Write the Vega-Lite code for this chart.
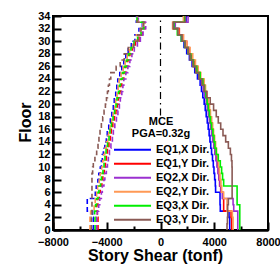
{
"$schema": "https://vega.github.io/schema/vega-lite/v6.json",
"width": 215, "height": 214,
"autosize": {"type": "none"},
"padding": {"left": 53, "top": 16, "right": 12, "bottom": 36},
"config": {
  "font": "Liberation Sans",
  "view": {"stroke": "black", "strokeWidth": 2},
  "axis": {"labelFont": "Liberation Sans", "labelFontWeight": "bold", "labelFontSize": 11, "labelColor": "black", "titleFont": "Liberation Sans", "titleFontWeight": "bold", "titleFontSize": 16, "titleColor": "black", "domainColor": "black", "domainWidth": 2.5, "tickColor": "black", "tickWidth": 2, "grid": false},
  "legend": {"labelFont": "Liberation Sans", "titleFont": "Liberation Sans"}
},
"datasets": {
"ref": [{"v": 0, "f": 18.2, "f2": 34}],
"curves": [
{"k":"EQ1,X Dir.","d":"+","f":0,"v":5150},{"k":"EQ1,X Dir.","d":"+","f":1,"v":5150},{"k":"EQ1,X Dir.","d":"+","f":2,"v":5100},{"k":"EQ1,X Dir.","d":"+","f":3,"v":4450},{"k":"EQ1,X Dir.","d":"+","f":4,"v":4430},{"k":"EQ1,X Dir.","d":"+","f":5,"v":4430},{"k":"EQ1,X Dir.","d":"+","f":6,"v":4100},{"k":"EQ1,X Dir.","d":"+","f":7,"v":4080},{"k":"EQ1,X Dir.","d":"+","f":8,"v":4030},{"k":"EQ1,X Dir.","d":"+","f":9,"v":3980},{"k":"EQ1,X Dir.","d":"+","f":10,"v":3930},{"k":"EQ1,X Dir.","d":"+","f":11,"v":3870},{"k":"EQ1,X Dir.","d":"+","f":12,"v":3800},{"k":"EQ1,X Dir.","d":"+","f":13,"v":3740},{"k":"EQ1,X Dir.","d":"+","f":14,"v":3680},{"k":"EQ1,X Dir.","d":"+","f":15,"v":3620},{"k":"EQ1,X Dir.","d":"+","f":16,"v":3550},{"k":"EQ1,X Dir.","d":"+","f":17,"v":3480},{"k":"EQ1,X Dir.","d":"+","f":18,"v":3400},{"k":"EQ1,X Dir.","d":"+","f":19,"v":3330},{"k":"EQ1,X Dir.","d":"+","f":20,"v":3250},{"k":"EQ1,X Dir.","d":"+","f":21,"v":3150},{"k":"EQ1,X Dir.","d":"+","f":22,"v":3050},{"k":"EQ1,X Dir.","d":"+","f":23,"v":2950},{"k":"EQ1,X Dir.","d":"+","f":24,"v":2750},{"k":"EQ1,X Dir.","d":"+","f":25,"v":2550},{"k":"EQ1,X Dir.","d":"+","f":26,"v":2350},{"k":"EQ1,X Dir.","d":"+","f":27,"v":2150},{"k":"EQ1,X Dir.","d":"+","f":28,"v":1950},{"k":"EQ1,X Dir.","d":"+","f":29,"v":1750},{"k":"EQ1,X Dir.","d":"+","f":30,"v":1550},{"k":"EQ1,X Dir.","d":"+","f":31,"v":1350},{"k":"EQ1,X Dir.","d":"+","f":32,"v":1000},{"k":"EQ1,X Dir.","d":"+","f":33,"v":1900},{"k":"EQ1,X Dir.","d":"+","f":34,"v":1900},
{"k":"EQ1,Y Dir.","d":"+","f":0,"v":5300},{"k":"EQ1,Y Dir.","d":"+","f":1,"v":5300},{"k":"EQ1,Y Dir.","d":"+","f":2,"v":5250},{"k":"EQ1,Y Dir.","d":"+","f":3,"v":4700},{"k":"EQ1,Y Dir.","d":"+","f":4,"v":4700},{"k":"EQ1,Y Dir.","d":"+","f":5,"v":4650},{"k":"EQ1,Y Dir.","d":"+","f":6,"v":4480},{"k":"EQ1,Y Dir.","d":"+","f":7,"v":4400},{"k":"EQ1,Y Dir.","d":"+","f":8,"v":4350},{"k":"EQ1,Y Dir.","d":"+","f":9,"v":4300},{"k":"EQ1,Y Dir.","d":"+","f":10,"v":4250},{"k":"EQ1,Y Dir.","d":"+","f":11,"v":4200},{"k":"EQ1,Y Dir.","d":"+","f":12,"v":4130},{"k":"EQ1,Y Dir.","d":"+","f":13,"v":4060},{"k":"EQ1,Y Dir.","d":"+","f":14,"v":3990},{"k":"EQ1,Y Dir.","d":"+","f":15,"v":3920},{"k":"EQ1,Y Dir.","d":"+","f":16,"v":3850},{"k":"EQ1,Y Dir.","d":"+","f":17,"v":3780},{"k":"EQ1,Y Dir.","d":"+","f":18,"v":3700},{"k":"EQ1,Y Dir.","d":"+","f":19,"v":3620},{"k":"EQ1,Y Dir.","d":"+","f":20,"v":3520},{"k":"EQ1,Y Dir.","d":"+","f":21,"v":3420},{"k":"EQ1,Y Dir.","d":"+","f":22,"v":3300},{"k":"EQ1,Y Dir.","d":"+","f":23,"v":3200},{"k":"EQ1,Y Dir.","d":"+","f":24,"v":2950},{"k":"EQ1,Y Dir.","d":"+","f":25,"v":2750},{"k":"EQ1,Y Dir.","d":"+","f":26,"v":2500},{"k":"EQ1,Y Dir.","d":"+","f":27,"v":2300},{"k":"EQ1,Y Dir.","d":"+","f":28,"v":2150},{"k":"EQ1,Y Dir.","d":"+","f":29,"v":1950},{"k":"EQ1,Y Dir.","d":"+","f":30,"v":1700},{"k":"EQ1,Y Dir.","d":"+","f":31,"v":1400},{"k":"EQ1,Y Dir.","d":"+","f":32,"v":950},{"k":"EQ1,Y Dir.","d":"+","f":33,"v":1750},{"k":"EQ1,Y Dir.","d":"+","f":34,"v":1750},
{"k":"EQ2,X Dir.","d":"+","f":0,"v":5750},{"k":"EQ2,X Dir.","d":"+","f":1,"v":5750},{"k":"EQ2,X Dir.","d":"+","f":2,"v":5750},{"k":"EQ2,X Dir.","d":"+","f":3,"v":5450},{"k":"EQ2,X Dir.","d":"+","f":4,"v":5400},{"k":"EQ2,X Dir.","d":"+","f":5,"v":4600},{"k":"EQ2,X Dir.","d":"+","f":6,"v":4500},{"k":"EQ2,X Dir.","d":"+","f":7,"v":4420},{"k":"EQ2,X Dir.","d":"+","f":8,"v":4350},{"k":"EQ2,X Dir.","d":"+","f":9,"v":4280},{"k":"EQ2,X Dir.","d":"+","f":10,"v":4200},{"k":"EQ2,X Dir.","d":"+","f":11,"v":4120},{"k":"EQ2,X Dir.","d":"+","f":12,"v":4040},{"k":"EQ2,X Dir.","d":"+","f":13,"v":3960},{"k":"EQ2,X Dir.","d":"+","f":14,"v":3880},{"k":"EQ2,X Dir.","d":"+","f":15,"v":3800},{"k":"EQ2,X Dir.","d":"+","f":16,"v":3720},{"k":"EQ2,X Dir.","d":"+","f":17,"v":3640},{"k":"EQ2,X Dir.","d":"+","f":18,"v":3560},{"k":"EQ2,X Dir.","d":"+","f":19,"v":3480},{"k":"EQ2,X Dir.","d":"+","f":20,"v":3400},{"k":"EQ2,X Dir.","d":"+","f":21,"v":3300},{"k":"EQ2,X Dir.","d":"+","f":22,"v":3180},{"k":"EQ2,X Dir.","d":"+","f":23,"v":3050},{"k":"EQ2,X Dir.","d":"+","f":24,"v":2850},{"k":"EQ2,X Dir.","d":"+","f":25,"v":2650},{"k":"EQ2,X Dir.","d":"+","f":26,"v":2450},{"k":"EQ2,X Dir.","d":"+","f":27,"v":2250},{"k":"EQ2,X Dir.","d":"+","f":28,"v":2050},{"k":"EQ2,X Dir.","d":"+","f":29,"v":1850},{"k":"EQ2,X Dir.","d":"+","f":30,"v":1600},{"k":"EQ2,X Dir.","d":"+","f":31,"v":1300},{"k":"EQ2,X Dir.","d":"+","f":32,"v":1100},{"k":"EQ2,X Dir.","d":"+","f":33,"v":2050},{"k":"EQ2,X Dir.","d":"+","f":34,"v":2050},
{"k":"EQ2,Y Dir.","d":"+","f":0,"v":5400},{"k":"EQ2,Y Dir.","d":"+","f":1,"v":5400},{"k":"EQ2,Y Dir.","d":"+","f":2,"v":5350},{"k":"EQ2,Y Dir.","d":"+","f":3,"v":4950},{"k":"EQ2,Y Dir.","d":"+","f":4,"v":4950},{"k":"EQ2,Y Dir.","d":"+","f":5,"v":4700},{"k":"EQ2,Y Dir.","d":"+","f":6,"v":4550},{"k":"EQ2,Y Dir.","d":"+","f":7,"v":4500},{"k":"EQ2,Y Dir.","d":"+","f":8,"v":4430},{"k":"EQ2,Y Dir.","d":"+","f":9,"v":4380},{"k":"EQ2,Y Dir.","d":"+","f":10,"v":4320},{"k":"EQ2,Y Dir.","d":"+","f":11,"v":4250},{"k":"EQ2,Y Dir.","d":"+","f":12,"v":4170},{"k":"EQ2,Y Dir.","d":"+","f":13,"v":4100},{"k":"EQ2,Y Dir.","d":"+","f":14,"v":4030},{"k":"EQ2,Y Dir.","d":"+","f":15,"v":3950},{"k":"EQ2,Y Dir.","d":"+","f":16,"v":3880},{"k":"EQ2,Y Dir.","d":"+","f":17,"v":3800},{"k":"EQ2,Y Dir.","d":"+","f":18,"v":3720},{"k":"EQ2,Y Dir.","d":"+","f":19,"v":3650},{"k":"EQ2,Y Dir.","d":"+","f":20,"v":3550},{"k":"EQ2,Y Dir.","d":"+","f":21,"v":3450},{"k":"EQ2,Y Dir.","d":"+","f":22,"v":3350},{"k":"EQ2,Y Dir.","d":"+","f":23,"v":3250},{"k":"EQ2,Y Dir.","d":"+","f":24,"v":3000},{"k":"EQ2,Y Dir.","d":"+","f":25,"v":2800},{"k":"EQ2,Y Dir.","d":"+","f":26,"v":2600},{"k":"EQ2,Y Dir.","d":"+","f":27,"v":2400},{"k":"EQ2,Y Dir.","d":"+","f":28,"v":2200},{"k":"EQ2,Y Dir.","d":"+","f":29,"v":1950},{"k":"EQ2,Y Dir.","d":"+","f":30,"v":1700},{"k":"EQ2,Y Dir.","d":"+","f":31,"v":1350},{"k":"EQ2,Y Dir.","d":"+","f":32,"v":900},{"k":"EQ2,Y Dir.","d":"+","f":33,"v":1700},{"k":"EQ2,Y Dir.","d":"+","f":34,"v":1700},
{"k":"EQ3,X Dir.","d":"+","f":0,"v":5900},{"k":"EQ3,X Dir.","d":"+","f":1,"v":5900},{"k":"EQ3,X Dir.","d":"+","f":2,"v":5900},{"k":"EQ3,X Dir.","d":"+","f":3,"v":5900},{"k":"EQ3,X Dir.","d":"+","f":4,"v":5700},{"k":"EQ3,X Dir.","d":"+","f":5,"v":5700},{"k":"EQ3,X Dir.","d":"+","f":6,"v":5700},{"k":"EQ3,X Dir.","d":"+","f":7,"v":4700},{"k":"EQ3,X Dir.","d":"+","f":8,"v":4620},{"k":"EQ3,X Dir.","d":"+","f":9,"v":4550},{"k":"EQ3,X Dir.","d":"+","f":10,"v":4450},{"k":"EQ3,X Dir.","d":"+","f":11,"v":4300},{"k":"EQ3,X Dir.","d":"+","f":12,"v":4150},{"k":"EQ3,X Dir.","d":"+","f":13,"v":4050},{"k":"EQ3,X Dir.","d":"+","f":14,"v":3980},{"k":"EQ3,X Dir.","d":"+","f":15,"v":3900},{"k":"EQ3,X Dir.","d":"+","f":16,"v":3800},{"k":"EQ3,X Dir.","d":"+","f":17,"v":3720},{"k":"EQ3,X Dir.","d":"+","f":18,"v":3640},{"k":"EQ3,X Dir.","d":"+","f":19,"v":3560},{"k":"EQ3,X Dir.","d":"+","f":20,"v":3470},{"k":"EQ3,X Dir.","d":"+","f":21,"v":3380},{"k":"EQ3,X Dir.","d":"+","f":22,"v":3280},{"k":"EQ3,X Dir.","d":"+","f":23,"v":3150},{"k":"EQ3,X Dir.","d":"+","f":24,"v":2950},{"k":"EQ3,X Dir.","d":"+","f":25,"v":2700},{"k":"EQ3,X Dir.","d":"+","f":26,"v":2450},{"k":"EQ3,X Dir.","d":"+","f":27,"v":2250},{"k":"EQ3,X Dir.","d":"+","f":28,"v":2050},{"k":"EQ3,X Dir.","d":"+","f":29,"v":1800},{"k":"EQ3,X Dir.","d":"+","f":30,"v":1550},{"k":"EQ3,X Dir.","d":"+","f":31,"v":1250},{"k":"EQ3,X Dir.","d":"+","f":32,"v":1000},{"k":"EQ3,X Dir.","d":"+","f":33,"v":1800},{"k":"EQ3,X Dir.","d":"+","f":34,"v":1800},
{"k":"EQ3,Y Dir.","d":"+","f":0,"v":4950},{"k":"EQ3,Y Dir.","d":"+","f":1,"v":4980},{"k":"EQ3,Y Dir.","d":"+","f":2,"v":5000},{"k":"EQ3,Y Dir.","d":"+","f":3,"v":5000},{"k":"EQ3,Y Dir.","d":"+","f":4,"v":5050},{"k":"EQ3,Y Dir.","d":"+","f":5,"v":5330},{"k":"EQ3,Y Dir.","d":"+","f":6,"v":5330},{"k":"EQ3,Y Dir.","d":"+","f":7,"v":5330},{"k":"EQ3,Y Dir.","d":"+","f":8,"v":5330},{"k":"EQ3,Y Dir.","d":"+","f":9,"v":5330},{"k":"EQ3,Y Dir.","d":"+","f":10,"v":5320},{"k":"EQ3,Y Dir.","d":"+","f":11,"v":5280},{"k":"EQ3,Y Dir.","d":"+","f":12,"v":5200},{"k":"EQ3,Y Dir.","d":"+","f":13,"v":5050},{"k":"EQ3,Y Dir.","d":"+","f":14,"v":4850},{"k":"EQ3,Y Dir.","d":"+","f":15,"v":4650},{"k":"EQ3,Y Dir.","d":"+","f":16,"v":4480},{"k":"EQ3,Y Dir.","d":"+","f":17,"v":4300},{"k":"EQ3,Y Dir.","d":"+","f":18,"v":4150},{"k":"EQ3,Y Dir.","d":"+","f":19,"v":3950},{"k":"EQ3,Y Dir.","d":"+","f":20,"v":3700},{"k":"EQ3,Y Dir.","d":"+","f":21,"v":3450},{"k":"EQ3,Y Dir.","d":"+","f":22,"v":3250},{"k":"EQ3,Y Dir.","d":"+","f":23,"v":3080},{"k":"EQ3,Y Dir.","d":"+","f":24,"v":2850},{"k":"EQ3,Y Dir.","d":"+","f":25,"v":2620},{"k":"EQ3,Y Dir.","d":"+","f":26,"v":2400},{"k":"EQ3,Y Dir.","d":"+","f":27,"v":2200},{"k":"EQ3,Y Dir.","d":"+","f":28,"v":2050},{"k":"EQ3,Y Dir.","d":"+","f":29,"v":1820},{"k":"EQ3,Y Dir.","d":"+","f":30,"v":1600},{"k":"EQ3,Y Dir.","d":"+","f":31,"v":1300},{"k":"EQ3,Y Dir.","d":"+","f":32,"v":950},{"k":"EQ3,Y Dir.","d":"+","f":33,"v":1850},{"k":"EQ3,Y Dir.","d":"+","f":34,"v":1850},
{"k":"EQ1,X Dir.","d":"-","f":0,"v":-5000},{"k":"EQ1,X Dir.","d":"-","f":1,"v":-5000},{"k":"EQ1,X Dir.","d":"-","f":2,"v":-5050},{"k":"EQ1,X Dir.","d":"-","f":3,"v":-5450},{"k":"EQ1,X Dir.","d":"-","f":4,"v":-5450},{"k":"EQ1,X Dir.","d":"-","f":5,"v":-4850},{"k":"EQ1,X Dir.","d":"-","f":6,"v":-4780},{"k":"EQ1,X Dir.","d":"-","f":7,"v":-4660},{"k":"EQ1,X Dir.","d":"-","f":8,"v":-4590},{"k":"EQ1,X Dir.","d":"-","f":9,"v":-4480},{"k":"EQ1,X Dir.","d":"-","f":10,"v":-4400},{"k":"EQ1,X Dir.","d":"-","f":11,"v":-4330},{"k":"EQ1,X Dir.","d":"-","f":12,"v":-4250},{"k":"EQ1,X Dir.","d":"-","f":13,"v":-4140},{"k":"EQ1,X Dir.","d":"-","f":14,"v":-4030},{"k":"EQ1,X Dir.","d":"-","f":15,"v":-3960},{"k":"EQ1,X Dir.","d":"-","f":16,"v":-3850},{"k":"EQ1,X Dir.","d":"-","f":17,"v":-3730},{"k":"EQ1,X Dir.","d":"-","f":18,"v":-3620},{"k":"EQ1,X Dir.","d":"-","f":19,"v":-3510},{"k":"EQ1,X Dir.","d":"-","f":20,"v":-3440},{"k":"EQ1,X Dir.","d":"-","f":21,"v":-3330},{"k":"EQ1,X Dir.","d":"-","f":22,"v":-3250},{"k":"EQ1,X Dir.","d":"-","f":23,"v":-3180},{"k":"EQ1,X Dir.","d":"-","f":24,"v":-3030},{"k":"EQ1,X Dir.","d":"-","f":25,"v":-2880},{"k":"EQ1,X Dir.","d":"-","f":26,"v":-2730},{"k":"EQ1,X Dir.","d":"-","f":27,"v":-2580},{"k":"EQ1,X Dir.","d":"-","f":28,"v":-2400},{"k":"EQ1,X Dir.","d":"-","f":29,"v":-2170},{"k":"EQ1,X Dir.","d":"-","f":30,"v":-1900},{"k":"EQ1,X Dir.","d":"-","f":31,"v":-1600},{"k":"EQ1,X Dir.","d":"-","f":32,"v":-1350},{"k":"EQ1,X Dir.","d":"-","f":33,"v":-1800},{"k":"EQ1,X Dir.","d":"-","f":34,"v":-1800},
{"k":"EQ1,Y Dir.","d":"-","f":0,"v":-4650},{"k":"EQ1,Y Dir.","d":"-","f":1,"v":-4650},{"k":"EQ1,Y Dir.","d":"-","f":2,"v":-4700},{"k":"EQ1,Y Dir.","d":"-","f":3,"v":-4740},{"k":"EQ1,Y Dir.","d":"-","f":4,"v":-4660},{"k":"EQ1,Y Dir.","d":"-","f":5,"v":-4550},{"k":"EQ1,Y Dir.","d":"-","f":6,"v":-4480},{"k":"EQ1,Y Dir.","d":"-","f":7,"v":-4360},{"k":"EQ1,Y Dir.","d":"-","f":8,"v":-4290},{"k":"EQ1,Y Dir.","d":"-","f":9,"v":-4180},{"k":"EQ1,Y Dir.","d":"-","f":10,"v":-4100},{"k":"EQ1,Y Dir.","d":"-","f":11,"v":-4030},{"k":"EQ1,Y Dir.","d":"-","f":12,"v":-3950},{"k":"EQ1,Y Dir.","d":"-","f":13,"v":-3840},{"k":"EQ1,Y Dir.","d":"-","f":14,"v":-3730},{"k":"EQ1,Y Dir.","d":"-","f":15,"v":-3660},{"k":"EQ1,Y Dir.","d":"-","f":16,"v":-3550},{"k":"EQ1,Y Dir.","d":"-","f":17,"v":-3430},{"k":"EQ1,Y Dir.","d":"-","f":18,"v":-3320},{"k":"EQ1,Y Dir.","d":"-","f":19,"v":-3210},{"k":"EQ1,Y Dir.","d":"-","f":20,"v":-3140},{"k":"EQ1,Y Dir.","d":"-","f":21,"v":-3030},{"k":"EQ1,Y Dir.","d":"-","f":22,"v":-2950},{"k":"EQ1,Y Dir.","d":"-","f":23,"v":-2880},{"k":"EQ1,Y Dir.","d":"-","f":24,"v":-2730},{"k":"EQ1,Y Dir.","d":"-","f":25,"v":-2580},{"k":"EQ1,Y Dir.","d":"-","f":26,"v":-2430},{"k":"EQ1,Y Dir.","d":"-","f":27,"v":-2280},{"k":"EQ1,Y Dir.","d":"-","f":28,"v":-2100},{"k":"EQ1,Y Dir.","d":"-","f":29,"v":-1870},{"k":"EQ1,Y Dir.","d":"-","f":30,"v":-1600},{"k":"EQ1,Y Dir.","d":"-","f":31,"v":-1350},{"k":"EQ1,Y Dir.","d":"-","f":32,"v":-1150},{"k":"EQ1,Y Dir.","d":"-","f":33,"v":-1700},{"k":"EQ1,Y Dir.","d":"-","f":34,"v":-1700},
{"k":"EQ2,X Dir.","d":"-","f":0,"v":-4750},{"k":"EQ2,X Dir.","d":"-","f":1,"v":-4750},{"k":"EQ2,X Dir.","d":"-","f":2,"v":-4700},{"k":"EQ2,X Dir.","d":"-","f":3,"v":-4600},{"k":"EQ2,X Dir.","d":"-","f":4,"v":-4520},{"k":"EQ2,X Dir.","d":"-","f":5,"v":-4400},{"k":"EQ2,X Dir.","d":"-","f":6,"v":-4330},{"k":"EQ2,X Dir.","d":"-","f":7,"v":-4210},{"k":"EQ2,X Dir.","d":"-","f":8,"v":-4140},{"k":"EQ2,X Dir.","d":"-","f":9,"v":-4030},{"k":"EQ2,X Dir.","d":"-","f":10,"v":-3950},{"k":"EQ2,X Dir.","d":"-","f":11,"v":-3880},{"k":"EQ2,X Dir.","d":"-","f":12,"v":-3800},{"k":"EQ2,X Dir.","d":"-","f":13,"v":-3690},{"k":"EQ2,X Dir.","d":"-","f":14,"v":-3580},{"k":"EQ2,X Dir.","d":"-","f":15,"v":-3510},{"k":"EQ2,X Dir.","d":"-","f":16,"v":-3400},{"k":"EQ2,X Dir.","d":"-","f":17,"v":-3280},{"k":"EQ2,X Dir.","d":"-","f":18,"v":-3170},{"k":"EQ2,X Dir.","d":"-","f":19,"v":-3060},{"k":"EQ2,X Dir.","d":"-","f":20,"v":-2990},{"k":"EQ2,X Dir.","d":"-","f":21,"v":-2880},{"k":"EQ2,X Dir.","d":"-","f":22,"v":-2800},{"k":"EQ2,X Dir.","d":"-","f":23,"v":-2730},{"k":"EQ2,X Dir.","d":"-","f":24,"v":-2580},{"k":"EQ2,X Dir.","d":"-","f":25,"v":-2430},{"k":"EQ2,X Dir.","d":"-","f":26,"v":-2280},{"k":"EQ2,X Dir.","d":"-","f":27,"v":-2130},{"k":"EQ2,X Dir.","d":"-","f":28,"v":-1950},{"k":"EQ2,X Dir.","d":"-","f":29,"v":-1720},{"k":"EQ2,X Dir.","d":"-","f":30,"v":-1500},{"k":"EQ2,X Dir.","d":"-","f":31,"v":-1300},{"k":"EQ2,X Dir.","d":"-","f":32,"v":-1100},{"k":"EQ2,X Dir.","d":"-","f":33,"v":-1650},{"k":"EQ2,X Dir.","d":"-","f":34,"v":-1650},
{"k":"EQ2,Y Dir.","d":"-","f":0,"v":-5250},{"k":"EQ2,Y Dir.","d":"-","f":1,"v":-5250},{"k":"EQ2,Y Dir.","d":"-","f":2,"v":-5200},{"k":"EQ2,Y Dir.","d":"-","f":3,"v":-4940},{"k":"EQ2,Y Dir.","d":"-","f":4,"v":-4860},{"k":"EQ2,Y Dir.","d":"-","f":5,"v":-4750},{"k":"EQ2,Y Dir.","d":"-","f":6,"v":-4680},{"k":"EQ2,Y Dir.","d":"-","f":7,"v":-4560},{"k":"EQ2,Y Dir.","d":"-","f":8,"v":-4490},{"k":"EQ2,Y Dir.","d":"-","f":9,"v":-4380},{"k":"EQ2,Y Dir.","d":"-","f":10,"v":-4300},{"k":"EQ2,Y Dir.","d":"-","f":11,"v":-4230},{"k":"EQ2,Y Dir.","d":"-","f":12,"v":-4150},{"k":"EQ2,Y Dir.","d":"-","f":13,"v":-4040},{"k":"EQ2,Y Dir.","d":"-","f":14,"v":-3930},{"k":"EQ2,Y Dir.","d":"-","f":15,"v":-3860},{"k":"EQ2,Y Dir.","d":"-","f":16,"v":-3750},{"k":"EQ2,Y Dir.","d":"-","f":17,"v":-3630},{"k":"EQ2,Y Dir.","d":"-","f":18,"v":-3520},{"k":"EQ2,Y Dir.","d":"-","f":19,"v":-3410},{"k":"EQ2,Y Dir.","d":"-","f":20,"v":-3340},{"k":"EQ2,Y Dir.","d":"-","f":21,"v":-3230},{"k":"EQ2,Y Dir.","d":"-","f":22,"v":-3150},{"k":"EQ2,Y Dir.","d":"-","f":23,"v":-3080},{"k":"EQ2,Y Dir.","d":"-","f":24,"v":-2930},{"k":"EQ2,Y Dir.","d":"-","f":25,"v":-2780},{"k":"EQ2,Y Dir.","d":"-","f":26,"v":-2630},{"k":"EQ2,Y Dir.","d":"-","f":27,"v":-2480},{"k":"EQ2,Y Dir.","d":"-","f":28,"v":-2300},{"k":"EQ2,Y Dir.","d":"-","f":29,"v":-2070},{"k":"EQ2,Y Dir.","d":"-","f":30,"v":-1800},{"k":"EQ2,Y Dir.","d":"-","f":31,"v":-1500},{"k":"EQ2,Y Dir.","d":"-","f":32,"v":-1300},{"k":"EQ2,Y Dir.","d":"-","f":33,"v":-1700},{"k":"EQ2,Y Dir.","d":"-","f":34,"v":-1700},
{"k":"EQ3,X Dir.","d":"-","f":0,"v":-4870},{"k":"EQ3,X Dir.","d":"-","f":1,"v":-4870},{"k":"EQ3,X Dir.","d":"-","f":2,"v":-4900},{"k":"EQ3,X Dir.","d":"-","f":3,"v":-4830},{"k":"EQ3,X Dir.","d":"-","f":4,"v":-4760},{"k":"EQ3,X Dir.","d":"-","f":5,"v":-4650},{"k":"EQ3,X Dir.","d":"-","f":6,"v":-4580},{"k":"EQ3,X Dir.","d":"-","f":7,"v":-4460},{"k":"EQ3,X Dir.","d":"-","f":8,"v":-4390},{"k":"EQ3,X Dir.","d":"-","f":9,"v":-4280},{"k":"EQ3,X Dir.","d":"-","f":10,"v":-4200},{"k":"EQ3,X Dir.","d":"-","f":11,"v":-4130},{"k":"EQ3,X Dir.","d":"-","f":12,"v":-4050},{"k":"EQ3,X Dir.","d":"-","f":13,"v":-3940},{"k":"EQ3,X Dir.","d":"-","f":14,"v":-3830},{"k":"EQ3,X Dir.","d":"-","f":15,"v":-3760},{"k":"EQ3,X Dir.","d":"-","f":16,"v":-3650},{"k":"EQ3,X Dir.","d":"-","f":17,"v":-3530},{"k":"EQ3,X Dir.","d":"-","f":18,"v":-3420},{"k":"EQ3,X Dir.","d":"-","f":19,"v":-3310},{"k":"EQ3,X Dir.","d":"-","f":20,"v":-3240},{"k":"EQ3,X Dir.","d":"-","f":21,"v":-3130},{"k":"EQ3,X Dir.","d":"-","f":22,"v":-3050},{"k":"EQ3,X Dir.","d":"-","f":23,"v":-2980},{"k":"EQ3,X Dir.","d":"-","f":24,"v":-2830},{"k":"EQ3,X Dir.","d":"-","f":25,"v":-2680},{"k":"EQ3,X Dir.","d":"-","f":26,"v":-2530},{"k":"EQ3,X Dir.","d":"-","f":27,"v":-2380},{"k":"EQ3,X Dir.","d":"-","f":28,"v":-2200},{"k":"EQ3,X Dir.","d":"-","f":29,"v":-1970},{"k":"EQ3,X Dir.","d":"-","f":30,"v":-1700},{"k":"EQ3,X Dir.","d":"-","f":31,"v":-1450},{"k":"EQ3,X Dir.","d":"-","f":32,"v":-1250},{"k":"EQ3,X Dir.","d":"-","f":33,"v":-1750},{"k":"EQ3,X Dir.","d":"-","f":34,"v":-1750},
{"k":"EQ3,Y Dir.","d":"-","f":0,"v":-5150},{"k":"EQ3,Y Dir.","d":"-","f":1,"v":-5150},{"k":"EQ3,Y Dir.","d":"-","f":2,"v":-5100},{"k":"EQ3,Y Dir.","d":"-","f":3,"v":-5100},{"k":"EQ3,Y Dir.","d":"-","f":4,"v":-5100},{"k":"EQ3,Y Dir.","d":"-","f":5,"v":-5100},{"k":"EQ3,Y Dir.","d":"-","f":6,"v":-5100},{"k":"EQ3,Y Dir.","d":"-","f":7,"v":-5100},{"k":"EQ3,Y Dir.","d":"-","f":8,"v":-5100},{"k":"EQ3,Y Dir.","d":"-","f":9,"v":-5050},{"k":"EQ3,Y Dir.","d":"-","f":10,"v":-5000},{"k":"EQ3,Y Dir.","d":"-","f":11,"v":-4880},{"k":"EQ3,Y Dir.","d":"-","f":12,"v":-4750},{"k":"EQ3,Y Dir.","d":"-","f":13,"v":-4650},{"k":"EQ3,Y Dir.","d":"-","f":14,"v":-4580},{"k":"EQ3,Y Dir.","d":"-","f":15,"v":-4500},{"k":"EQ3,Y Dir.","d":"-","f":16,"v":-4400},{"k":"EQ3,Y Dir.","d":"-","f":17,"v":-4300},{"k":"EQ3,Y Dir.","d":"-","f":18,"v":-4200},{"k":"EQ3,Y Dir.","d":"-","f":19,"v":-4100},{"k":"EQ3,Y Dir.","d":"-","f":20,"v":-4020},{"k":"EQ3,Y Dir.","d":"-","f":21,"v":-3950},{"k":"EQ3,Y Dir.","d":"-","f":22,"v":-3880},{"k":"EQ3,Y Dir.","d":"-","f":23,"v":-3800},{"k":"EQ3,Y Dir.","d":"-","f":24,"v":-3700},{"k":"EQ3,Y Dir.","d":"-","f":25,"v":-3300},{"k":"EQ3,Y Dir.","d":"-","f":26,"v":-3000},{"k":"EQ3,Y Dir.","d":"-","f":27,"v":-2700},{"k":"EQ3,Y Dir.","d":"-","f":28,"v":-2400},{"k":"EQ3,Y Dir.","d":"-","f":29,"v":-2000},{"k":"EQ3,Y Dir.","d":"-","f":30,"v":-1700},{"k":"EQ3,Y Dir.","d":"-","f":31,"v":-1450},{"k":"EQ3,Y Dir.","d":"-","f":32,"v":-1250},{"k":"EQ3,Y Dir.","d":"-","f":33,"v":-1750},{"k":"EQ3,Y Dir.","d":"-","f":34,"v":-1750}
]
},
"encoding": {
  "x": {"field": "v", "type": "quantitative",
    "scale": {"domain": [-8000, 8000], "nice": false, "zero": false},
    "axis": {"title": "Story Shear (tonf)", "values": [-8000, -6000, -4000, -2000, 0, 2000, 4000, 6000, 8000],
      "format": "d",
      "labelExpr": "datum.value % 4000 === 0 ? datum.label : ''",
      "tickSize": {"condition": {"test": "datum.value % 4000 === 0", "value": -8}, "value": -4},
      "labelPadding": 14, "labelFlush": false, "labelOverlap": false,
      "titleBaseline": "alphabetic", "titleX": 102, "titleY": 30}},
  "y": {"field": "f", "type": "quantitative",
    "scale": {"domain": [0, 34], "nice": false},
    "axis": {"title": "Floor", "values": [0,2,4,6,8,10,12,14,16,18,20,22,24,26,28,30,32,34],
      "tickSize": -8, "labelPadding": 11, "labelFlush": false, "labelOverlap": false,
      "titleX": -20, "titleY": 106}}
},
"layer": [
  {
    "data": {"name": "ref"},
    "mark": {"type": "rule", "color": "black", "strokeWidth": 1.2, "strokeDash": [7, 4, 1.5, 4]},
    "encoding": {"y2": {"field": "f2"}}
  },
  {
    "data": {"name": "curves"},
    "mark": {"type": "line", "interpolate": "step-before", "strokeWidth": 1.6},
    "encoding": {
      "color": {"field": "k", "type": "nominal",
        "scale": {"domain": ["EQ1,X Dir.", "EQ1,Y Dir.", "EQ2,X Dir.", "EQ2,Y Dir.", "EQ3,X Dir.", "EQ3,Y Dir."],
          "range": ["#0000ff", "#ff0000", "#9b30d0", "#ff9955", "#00ee00", "#8a5a55"]},
        "legend": {"orient": "none", "legendX": 60, "legendY": 100, "title": ["MCE", "PGA=0.32g"],
          "titleAnchor": "middle", "titleFontSize": 11, "titleFontWeight": "bold", "titleColor": "black", "titleLineHeight": 12, "titlePadding": 4,
          "labelFontSize": 11, "labelFontWeight": "bold", "labelColor": "black",
          "symbolType": "stroke", "symbolSize": 1369, "symbolStrokeWidth": 2, "clipHeight": 13.4, "labelOffset": 4, "rowPadding": 0}},
      "strokeDash": {"field": "d", "type": "nominal", "scale": {"domain": ["+", "-"], "range": [[1, 0], [5, 3]]}, "legend": null},
      "order": {"field": "f", "type": "quantitative"}
    }
  }
]
}
